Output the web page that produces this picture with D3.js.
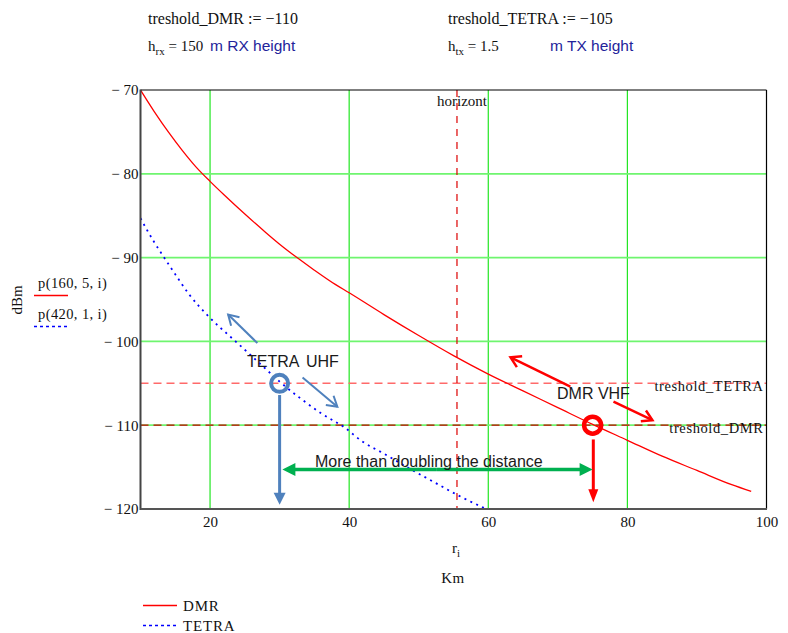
<!DOCTYPE html>
<html><head><meta charset="utf-8">
<script src="https://cdn.jsdelivr.net/npm/d3@7"></script>
<style>
html,body{margin:0;padding:0;background:#fff;}
svg{display:block;}
.serif{font-family:"Liberation Serif","Times New Roman",serif;fill:#111;}
.sans{font-family:"Liberation Sans",Arial,sans-serif;}
</style></head><body>
<svg id="c" width="788" height="633"></svg>
<script>
// ---------- data ----------
const kmDMR   = [10, 12, 14, 16, 18, 20, 22, 25, 28, 30, 32.5, 35, 38, 40, 45, 50, 55, 60, 65, 70, 75, 80, 85, 90, 95, 97.8];
const dbmDMR  = [-70, -72.6, -75, -77.2, -79.2, -80.9, -82.5, -84.8, -87.0, -88.4, -90, -91.5, -93.2, -94.2, -96.8, -99.3, -101.7, -103.9, -105.9, -107.9, -109.9, -111.8, -113.7, -115.4, -117.1, -117.9];
const kmTETRA  = [10, 11, 12, 13.4, 15, 17, 20, 23, 25, 27.5, 30, 33, 36, 39.2, 42, 45, 48.3, 52, 55.5, 59.7];
const dbmTETRA = [-85.3, -86.8, -88.2, -90, -92, -94.4, -97.2, -99.5, -101, -102.9, -104.8, -106.8, -108.6, -110.2, -112, -113.4, -115, -116.7, -118.3, -120];
const xTicks = [20, 40, 60, 80, 100];
const yTicks = [-70, -80, -90, -100, -110, -120];
const xGrid = [20, 40, 60, 80];
const yGrid = [-80, -90, -100, -110];
const thresholdDMR = -110;
const thresholdTETRA = -105;
const horizonKm = 55.5;
const rangeTETRA = 30;   // km where TETRA hits its threshold
const rangeDMR = 75;     // km where DMR hits its threshold
const seriesNames = ["DMR", "TETRA"];

// ---------- scales ----------
const svg = d3.select("#c");
const x = d3.scaleLinear().domain([10, 100]).range([140.5, 766.5]);
const y = d3.scaleLinear().domain([-120, -70]).range([509, 90]);
const X0 = x(10), X1 = x(100), Y0 = y(-70), Y1 = y(-120);

// header text
function header(xp, yp, name, sub, rest, fs) {
  const t = svg.append("text").attr("class", "serif").attr("x", xp).attr("y", yp).style("font-size", fs + "px");
  t.append("tspan").text(name);
  if (sub) t.append("tspan").attr("dy", 4).style("font-size", "11px").text(sub);
  t.append("tspan").attr("dy", sub ? -4 : 0).text(rest);
}
header(148, 24, "treshold_DMR := \u2212110", null, "", 16);
header(448, 24, "treshold_TETRA := \u2212105", null, "", 16);
header(148, 51, "h", "rx", " = 150", 15);
header(448, 51, "h", "tx", " = 1.5", 15);
svg.append("text").attr("class", "sans").attr("x", 210).attr("y", 51).style("font-size", "15.5px").attr("fill", "#23239b").text("m RX height");
svg.append("text").attr("class", "sans").attr("x", 550).attr("y", 51).style("font-size", "15.5px").attr("fill", "#23239b").text("m TX height");

// grid
const g = svg.append("g");
g.selectAll(".vg").data(xGrid).enter().append("line")
  .attr("x1", d => x(d)).attr("x2", d => x(d)).attr("y1", Y0).attr("y2", Y1)
  .attr("stroke", "#22e622").attr("stroke-width", 1.2);
g.selectAll(".hg").data(yGrid).enter().append("line")
  .attr("x1", X0).attr("x2", X1).attr("y1", d => y(d)).attr("y2", d => y(d))
  .attr("stroke", "#6ff56f").attr("stroke-width", 1.8);

// thresholds
g.append("line").attr("x1", X0).attr("x2", X1).attr("y1", y(thresholdTETRA)).attr("y2", y(thresholdTETRA))
  .attr("stroke", "#ff6a6a").attr("stroke-width", 1.4).attr("stroke-dasharray", "8,5");
g.append("line").attr("x1", X0).attr("x2", X1).attr("y1", y(thresholdDMR)).attr("y2", y(thresholdDMR))
  .attr("stroke", "#c80000").attr("stroke-width", 1.3).attr("stroke-dasharray", "8,5");
// horizon
g.append("line").attr("x1", x(horizonKm)).attr("x2", x(horizonKm)).attr("y1", Y0).attr("y2", Y1)
  .attr("stroke", "#dd0000").attr("stroke-width", 1.2).attr("stroke-dasharray", "7,6");

// curves
svg.append("clipPath").attr("id", "clip").append("rect").attr("x", X0).attr("y", Y0).attr("width", X1 - X0).attr("height", Y1 - Y0);
const line = d3.line().x(d => x(d[0])).y(d => y(d[1])).curve(d3.curveMonotoneX);
svg.append("path").attr("clip-path", "url(#clip)").attr("d", line(d3.zip(kmDMR, dbmDMR)))
  .attr("fill", "none").attr("stroke", "#ff0000").attr("stroke-width", 1.3);
svg.append("path").attr("clip-path", "url(#clip)").attr("d", line(d3.zip(kmTETRA, dbmTETRA)))
  .attr("fill", "none").attr("stroke", "#0000ff").attr("stroke-width", 1.8).attr("stroke-dasharray", "2,4.5");

// frame
svg.append("line").attr("x1", X0).attr("x2", X1).attr("y1", Y0).attr("y2", Y0).attr("stroke", "#000").attr("stroke-width", 1.2);
svg.append("line").attr("x1", X1).attr("x2", X1).attr("y1", Y0).attr("y2", Y1).attr("stroke", "#000").attr("stroke-width", 1.2);
svg.append("line").attr("x1", X0).attr("x2", X0).attr("y1", Y0 - 0.5).attr("y2", Y1 + 1).attr("stroke", "#444").attr("stroke-width", 2);
svg.append("line").attr("x1", X0).attr("x2", X1 + 0.5).attr("y1", Y1).attr("y2", Y1).attr("stroke", "#555").attr("stroke-width", 2);

// axes labels
const yAxis = d3.axisLeft(y).tickValues(yTicks).tickSize(0).tickPadding(2)
  .tickFormat(d => "\u2212 " + Math.abs(d));
const ya = svg.append("g").attr("transform", `translate(${X0},0)`).call(yAxis);
ya.select(".domain").remove();
ya.selectAll("text").attr("class", "serif").style("font-size", "15px").attr("fill", "#111");
const xAxis = d3.axisBottom(x).tickValues(xTicks).tickSize(0).tickPadding(7);
const xa = svg.append("g").attr("transform", `translate(0,${Y1})`).call(xAxis);
xa.select(".domain").remove();
xa.selectAll("text").attr("class", "serif").style("font-size", "15px").attr("fill", "#111");

// in-plot serif labels
svg.append("text").attr("class", "serif").attr("x", x(horizonKm) + 30).attr("y", 106).attr("text-anchor", "end").style("font-size", "15px").text("horizont");
svg.append("text").attr("class", "serif").attr("x", X1 - 3).attr("y", y(thresholdTETRA) + 8).attr("text-anchor", "end").style("font-size", "14.5px").style("letter-spacing", "0.6px").text("treshold_TETRA");
svg.append("text").attr("class", "serif").attr("x", X1 - 3).attr("y", y(thresholdDMR) + 7.5).attr("text-anchor", "end").style("font-size", "14.5px").style("letter-spacing", "0.6px").text("treshold_DMR");

// axis titles
const xt = svg.append("text").attr("class", "serif").attr("x", 452).attr("y", 553).style("font-size", "15px");
xt.append("tspan").text("r");
xt.append("tspan").attr("dy", 4).style("font-size", "11px").text("i");
svg.append("text").attr("class", "serif").attr("x", 453).attr("y", 583).attr("text-anchor", "middle").style("font-size", "15px").style("letter-spacing", "0.5px").text("Km");
svg.append("text").attr("class", "serif").attr("transform", "translate(22,300) rotate(-90)").attr("text-anchor", "middle").style("font-size", "15px").text("dBm");
svg.append("text").attr("class", "serif").attr("x", 38).attr("y", 288).style("font-size", "14.5px").style("letter-spacing", "0.4px").text("p(160, 5, i)");
svg.append("line").attr("x1", 34).attr("x2", 68).attr("y1", 295.5).attr("y2", 295.5).attr("stroke", "#ff0000").attr("stroke-width", 1.3);
svg.append("text").attr("class", "serif").attr("x", 38).attr("y", 319).style("font-size", "14.5px").style("letter-spacing", "0.4px").text("p(420, 1, i)");
svg.append("line").attr("x1", 34).attr("x2", 68).attr("y1", 326.5).attr("y2", 326.5).attr("stroke", "#0000ff").attr("stroke-width", 1.3).attr("stroke-dasharray", "3,3");

// bottom legend
const leg = svg.append("g");
seriesNames.forEach((n, i) => {
  const yy = 605.5 + i * 20;
  leg.append("line").attr("x1", 143).attr("x2", 177).attr("y1", yy).attr("y2", yy)
    .attr("stroke", i === 0 ? "#ff0000" : "#0000ff").attr("stroke-width", 1.3)
    .attr("stroke-dasharray", i === 0 ? null : "3,3");
  leg.append("text").attr("class", "serif").attr("x", 183).attr("y", yy + 5).style("font-size", "15px").style("letter-spacing", "0.8px").text(n);
});

// ---------- annotations ----------
function arrow(k1, d1, k2, d2, color, w, head, open) {
  const x1 = x(k1), y1 = y(d1), x2 = x(k2), y2 = y(d2);
  const a = Math.atan2(y2 - y1, x2 - x1);
  const L = head[0], H = head[1];
  const bx = x2 - L * Math.cos(a), by = y2 - L * Math.sin(a);
  const px = -Math.sin(a) * H, py = Math.cos(a) * H;
  if (open) {
    svg.append("line").attr("x1", x1).attr("y1", y1).attr("x2", x2).attr("y2", y2)
      .attr("stroke", color).attr("stroke-width", w);
    svg.append("path").attr("d", `M${bx + px},${by + py}L${x2},${y2}L${bx - px},${by - py}`)
      .attr("fill", "none").attr("stroke", color).attr("stroke-width", w).attr("stroke-linejoin", "miter");
  } else {
    svg.append("line").attr("x1", x1).attr("y1", y1).attr("x2", bx + 1 * Math.cos(a)).attr("y2", by + 1 * Math.sin(a))
      .attr("stroke", color).attr("stroke-width", w);
    svg.append("path").attr("d", `M${bx + px},${by + py}L${x2},${y2}L${bx - px},${by - py}Z`).attr("fill", color);
  }
}
const blue = "#4f81bd";
// TETRA marker
svg.append("circle").attr("cx", x(rangeTETRA)).attr("cy", y(thresholdTETRA)).attr("r", 8.5)
  .attr("fill", "none").attr("stroke", blue).attr("stroke-width", 4);
arrow(rangeTETRA, -106.4, rangeTETRA, -119.5, blue, 3, [12, 6], false);
arrow(26.8, -100.2, 22.6, -96.8, blue, 2, [10, 6], true);
arrow(33.3, -104.3, 38.3, -107.8, blue, 2, [10, 6], true);
svg.append("text").attr("class", "sans").attr("x", 247).attr("y", 367).style("font-size", "16px").attr("fill", "#1a1a1a").style("word-spacing", "3px").text("TETRA UHF");

// DMR marker
svg.append("circle").attr("cx", x(rangeDMR)).attr("cy", y(thresholdDMR)).attr("r", 8.5)
  .attr("fill", "none").attr("stroke", "#ff0000").attr("stroke-width", 4.5);
arrow(rangeDMR + 0.1, -111.7, rangeDMR + 0.1, -119.2, "#ff0000", 3, [13, 5], false);
arrow(71.8, -105.4, 63.2, -101.9, "#ff0000", 2.5, [10, 6], true);
arrow(78.0, -107.2, 83.6, -109.4, "#ff0000", 2.5, [10, 6], true);
svg.append("text").attr("class", "sans").attr("x", 557).attr("y", 399).style("font-size", "16px").attr("fill", "#1a1a1a").text("DMR VHF");

// distance arrow
const gy = -115.3;
const gmid = (rangeTETRA + rangeDMR) / 2;
arrow(gmid, gy, rangeTETRA + 0.4, gy, "#00b050", 3.5, [13, 6.5], false);
arrow(gmid, gy, rangeDMR, gy, "#00b050", 3.5, [13, 6.5], false);
svg.append("text").attr("class", "sans").attr("x", 315).attr("y", 467).style("font-size", "16px").attr("fill", "#1a1a1a").text("More than doubling the distance");
</script>
</body></html>
